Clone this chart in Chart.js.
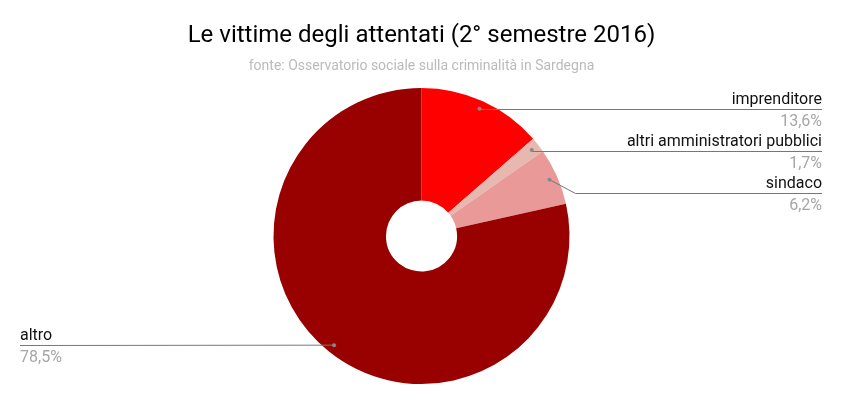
<html lang="it">
  <head>
    <meta charset="utf-8" />
    <title>Le vittime degli attentati</title>
    <script src="https://cdn.jsdelivr.net/npm/chart.js@4.4.1/dist/chart.umd.min.js"></script>
    <style>
      * { margin: 0; padding: 0; box-sizing: border-box; }
      body { width: 843px; height: 404px; background: #fff; font-family: Roboto, sans-serif; }
      #wrap { position: relative; width: 843px; height: 404px; }
    </style>
  </head>
  <body>
    <div id="wrap"><canvas id="chart"></canvas></div>
    <script>
      // dati
      const categories = ['imprenditore', 'altri amministratori pubblici', 'sindaco', 'altro'];
      const values = [13.6, 1.7, 6.2, 78.5];
      const sliceColors = ['#ff0000', '#e6b8af', '#ea9999', '#990000'];

      const fmt = (v) => v.toFixed(1).replace('.', ',') + '%';

      // etichette esterne con linee guida
      const leaderLabels = {
        id: 'leaderLabels',
        afterDatasetsDraw(chart) {
          const ctx = chart.ctx;
          const meta = chart.getDatasetMeta(0);
          const rightX = chart.width - 21;
          const leftX = 20;
          const gap = 42;
          let prevRight = -Infinity;
          meta.data.forEach((arc, i) => {
            const mid = (arc.startAngle + arc.endAngle) / 2;
            const r = arc.outerRadius * 0.945;
            const dx = arc.x + Math.cos(mid) * r;
            const dy = arc.y + Math.sin(mid) * r;
            const right = Math.cos(mid) >= 0;
            let ly = Math.round(dy);
            if (right) {
              ly = Math.max(ly, prevRight + gap);
              prevRight = ly;
            }
            ctx.save();
            ctx.strokeStyle = '#777777';
            ctx.lineWidth = 1;
            ctx.beginPath();
            ctx.moveTo(dx, dy);
            if (right) {
              const ex = Math.abs(ly - dy) > 3 ? dx + 26 : dx;
              ctx.lineTo(ex, ly + 0.5);
              ctx.lineTo(rightX, ly + 0.5);
            } else {
              ctx.lineTo(leftX, ly + 0.5);
            }
            ctx.stroke();
            ctx.fillStyle = '#888888';
            ctx.beginPath();
            ctx.arc(dx, dy, 2, 0, Math.PI * 2);
            ctx.fill();
            ctx.textAlign = right ? 'right' : 'left';
            const tx = right ? rightX : leftX;
            ctx.textBaseline = 'alphabetic';
            ctx.font = '16px Roboto';
            ctx.fillStyle = '#111111';
            ctx.fillText(categories[i], tx, ly - 5);
            ctx.fillStyle = '#a6a6a6';
            ctx.fillText(fmt(values[i]), tx, ly + 17);
            ctx.restore();
          });
        }
      };

      new Chart(document.getElementById('chart'), {
        type: 'doughnut',
        data: {
          labels: categories,
          datasets: [{
            data: values,
            backgroundColor: sliceColors,
            borderWidth: 0,
          }],
        },
        plugins: [leaderLabels],
        options: {
          responsive: true,
          maintainAspectRatio: false,
          animation: false,
          cutout: '24%',
          layout: { padding: { top: 0, bottom: 20, left: 0, right: 0 } },
          plugins: {
            legend: { display: false },
            tooltip: { enabled: false },
            title: {
              display: true,
              text: 'Le vittime degli attentati (2° semestre 2016)',
              color: '#000000',
              font: { family: 'Roboto', size: 24, weight: 'normal', lineHeight: 1.2 },
              padding: { top: 22, bottom: 6 },
            },
            subtitle: {
              display: true,
              text: 'fonte: Osservatorio sociale sulla criminalità in Sardegna',
              color: '#bbbbbb',
              font: { family: 'Roboto', size: 14, weight: 'normal', lineHeight: 1.2 },
              padding: { top: 1, bottom: 13.4 },
            },
          },
        },
      });
    </script>
  </body>
</html>
